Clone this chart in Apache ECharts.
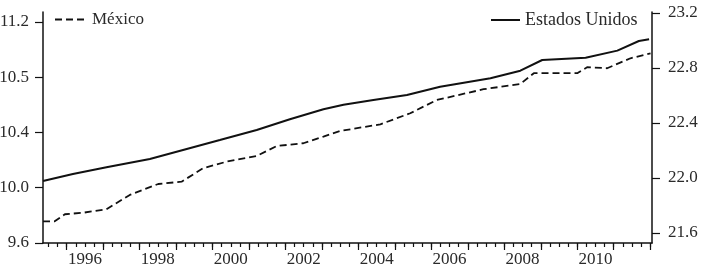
<!DOCTYPE html>
<html>
<head>
<meta charset="utf-8">
<script src="https://cdn.jsdelivr.net/npm/echarts@6/dist/echarts.min.js"></script>
<style>
html,body{margin:0;padding:0;background:#fff;}
#chart{width:701px;height:269px;}
</style>
</head>
<body>
<div id="chart"></div>
<script>
// México (left axis)
const mexYears  = [1995.35, 1995.67, 1995.95, 1996.45, 1997.09, 1997.73, 1998.51, 1999.15, 1999.74, 2000.39, 2001.21, 2001.76, 2002.49, 2003.04, 2003.5, 2004.6, 2005.42, 2006.15, 2007.43, 2008.44, 2008.81, 2010.0, 2010.27, 2010.82, 2011.46, 2012.01];
const mexValues = [9.757, 9.757, 9.808, 9.819, 9.844, 9.948, 10.027, 10.044, 10.141, 10.189, 10.23, 10.302, 10.322, 10.37, 10.411, 10.459, 10.539, 10.635, 10.713, 10.751, 10.829, 10.829, 10.872, 10.865, 10.937, 10.973];
// Estados Unidos (right axis)
const usYears  = [1995.35, 1996.17, 1997.09, 1998.28, 1999.19, 2000.2, 2001.21, 2002.12, 2003.04, 2003.59, 2004.41, 2005.33, 2006.24, 2007.62, 2008.44, 2009.04, 2010.23, 2011.1, 2011.69, 2011.97];
const usValues = [21.978, 22.029, 22.078, 22.138, 22.204, 22.276, 22.349, 22.427, 22.5, 22.533, 22.567, 22.604, 22.664, 22.725, 22.78, 22.858, 22.875, 22.926, 22.996, 23.009];

const xTickLabels = ['1996','1998','2000','2002','2004','2006','2008','2010'];
const leftTickValues = [9.6, 10.0, 10.4, 10.8, 11.2];
const leftTickLabels = ['9.6', '10.0', '10.4', '10.5', '11.2'];
const rightTickValues = [21.6, 22.0, 22.4, 22.8, 23.2];
const rightTickLabels = ['21.6', '22.0', '22.4', '22.8', '23.2'];
const yearTicks = [1996,1997,1998,1999,2000,2001,2002,2003,2004,2005,2006,2007,2008,2009,2010,2011,2012];

const quarterTicks = [];
for (let y = 1995; y <= 2012; y++) { for (let q = 0; q < 4; q++) { const v = y + q * 0.25; if (v > 1995.36 && v <= 2012.01) quarterTicks.push(v); } }
const labelPos = xTickLabels.map(s => Number(s) + 0.5);

const FONT = 'Liberation Serif';
const TXT = '#2a2a2a';
const AX = '#111';

const chart = echarts.init(document.getElementById('chart'), null, {renderer: 'canvas'});
chart.setOption({
  animation: false,
  backgroundColor: '#fff',
  grid: {left: 43, right: 49, top: 12, bottom: 26, containLabel: false, outerBoundsMode: 'none'},
  legend: [
    {data: ['México'], left: 49, top: 6, itemWidth: 30, itemHeight: 14, itemGap: 0,
     itemStyle: {opacity: 0},
     textStyle: {fontFamily: FONT, fontSize: 17, color: TXT, padding: [0,0,0,2]}},
    {data: ['Estados Unidos'], left: 485, top: 6, itemWidth: 29, itemHeight: 14, itemGap: 0,
     itemStyle: {opacity: 0},
     textStyle: {fontFamily: FONT, fontSize: 18, color: TXT, padding: [0,0,0,0]}}
  ],
  xAxis: [
    {type: 'value', min: 1995.35, max: 2012.05, position: 'bottom',
     axisLine: {show: true, lineStyle: {color: AX, width: 1.5}},
     axisTick: {show: true, customValues: quarterTicks, length: 4, inside: false, lineStyle: {color: AX, width: 1.2}},
     axisLabel: {show: true, customValues: labelPos, margin: 8,
       formatter: v => xTickLabels[labelPos.findIndex(p => Math.abs(p - v) < 0.01)] || '',
       fontFamily: FONT, fontSize: 17, color: TXT},
     splitLine: {show: false}},
    {type: 'value', min: 1995.35, max: 2012.05, position: 'bottom',
     axisLine: {show: false},
     axisTick: {show: true, customValues: yearTicks, length: 7, lineStyle: {color: AX, width: 1.2}},
     axisLabel: {show: false}, splitLine: {show: false}}
  ],
  yAxis: [
    {type: 'value', min: 9.6, max: 11.272, position: 'left',
     axisLine: {show: true, lineStyle: {color: AX, width: 1.5}},
     axisTick: {show: true, customValues: leftTickValues, length: 8, lineStyle: {color: AX, width: 1.2}},
     axisLabel: {customValues: leftTickValues, margin: 14,
       formatter: v => leftTickLabels[leftTickValues.findIndex(p => Math.abs(p - v) < 0.001)] || '',
       fontFamily: FONT, fontSize: 17, color: TXT},
     splitLine: {show: false}},
    {type: 'value', min: 21.527, max: 23.207, position: 'right',
     axisLine: {show: true, lineStyle: {color: AX, width: 1.5}},
     axisTick: {show: true, customValues: rightTickValues, length: 8, lineStyle: {color: AX, width: 1.2}},
     axisLabel: {customValues: rightTickValues, margin: 16,
       formatter: v => rightTickLabels[rightTickValues.findIndex(p => Math.abs(p - v) < 0.001)] || '',
       fontFamily: FONT, fontSize: 17, color: TXT},
     splitLine: {show: false}}
  ],
  series: [
    {name: 'México', type: 'line', xAxisIndex: 0, yAxisIndex: 0, symbol: 'none',
     lineStyle: {color: '#111', width: 1.8, type: [7, 4]}, itemStyle: {color: '#111'},
     data: mexYears.map((x, i) => [x, mexValues[i]])},
    {name: 'Estados Unidos', type: 'line', xAxisIndex: 0, yAxisIndex: 1, symbol: 'none',
     lineStyle: {color: '#111', width: 2}, itemStyle: {color: '#111'},
     data: usYears.map((x, i) => [x, usValues[i]])}
  ]
});
</script>
</body>
</html>
